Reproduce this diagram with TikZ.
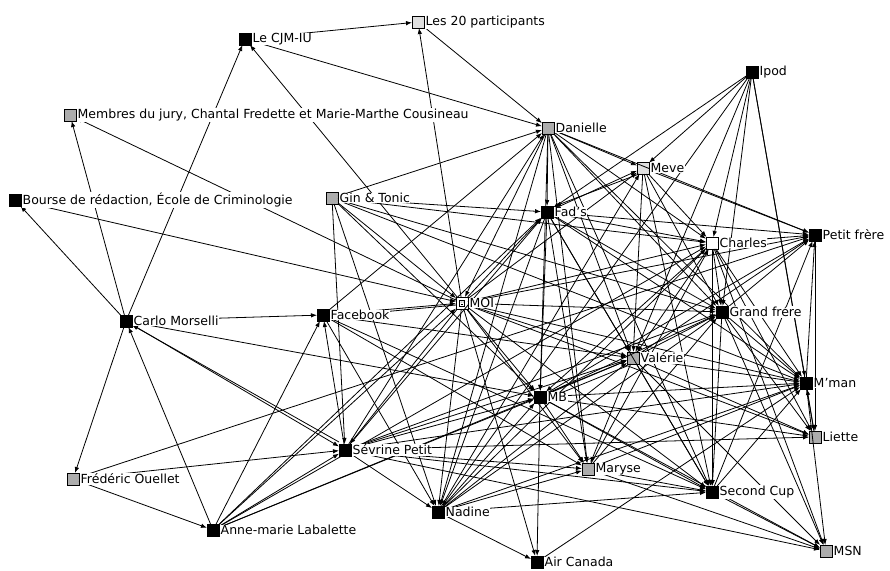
\documentclass[tikz,border=0pt]{standalone}
\usepackage{fontspec}
\setmainfont{DejaVu Sans}
\usetikzlibrary{arrows.meta}
\begin{document}
\begin{tikzpicture}[x=1pt,y=-1pt,
  nd/.style={draw=black, line width=0.7pt, minimum size=12pt, inner sep=0pt, outer sep=0pt},
  blk/.style={nd, fill=black},
  gry/.style={nd, fill=gray!65},
  lgt/.style={nd, fill=gray!25},
  wht/.style={nd, fill=white},
  lbl/.style={anchor=west, fill=white, inner sep=0.5pt, font=\fontsize{12.5}{14}\selectfont},
  e/.style={-{Latex[length=6pt,width=4.5pt]}, line width=0.8pt, black}]
\useasboundingbox (0,0) rectangle (890,570);
\fill[white] (0,0) rectangle (890,570);
% nodes
\node[blk] (cjm) at (245,39) {};
\node[lgt] (l20) at (418,22) {};
\node[gry] (jury) at (70,115) {};
\node[blk] (bourse) at (15,200) {};
\node[gry] (gin) at (332,198) {};
\node[gry] (dan) at (548,128) {};
\node[blk] (ipod) at (752,72) {};
\node[lgt] (meve) at (643,168) {};
\node[blk] (fad) at (547,212) {};
\node[wht] (charles) at (712,243) {};
\node[blk] (pf) at (815,235) {};
\node[blk] (carlo) at (126,321) {};
\node[blk] (fb) at (323,315) {};
\node[wht] (moi) at (462,303) {};
\node[blk] (gf) at (722,312) {};
\node[gry] (val) at (633,358) {};
\node[blk] (mman) at (806,383) {};
\node[blk] (mb) at (540,397) {};
\node[gry] (liette) at (815,437) {};
\node[blk] (sev) at (345,450) {};
\node[gry] (fred) at (73,479) {};
\node[gry] (maryse) at (588,469) {};
\node[blk] (sc) at (712,492) {};
\node[blk] (nadine) at (438,512) {};
\node[blk] (anne) at (213,530) {};
\node[blk] (air) at (537,562) {};
\node[gry] (msn) at (826,551) {};
% edges
\foreach \a/\b in {cjm/l20, cjm/dan, l20/dan, moi/l20, moi/cjm, carlo/cjm, carlo/jury, moi/jury,
  carlo/bourse, bourse/moi, carlo/fb, carlo/fred, anne/carlo, carlo/sev, carlo/mb,
  fred/anne, fred/pf, fred/sev,
  gin/fad, gin/dan, gin/moi, gin/mb, gin/gf, gin/mman, gin/sev, gin/nadine, gin/charles,
  fb/moi, sev/fb, anne/fb, fb/nadine, fb/maryse, fb/val, fb/sc, fb/dan,
  anne/sev, anne/moi, anne/fad, anne/charles, anne/mb, anne/val,
  sev/nadine, sev/msn, sev/sc, sev/mman, sev/gf, sev/fad, sev/dan, sev/val, sev/liette, sev/mb, sev/maryse,
  dan/fad, dan/meve, dan/charles, dan/gf, dan/mman, dan/val, dan/mb, dan/sc, dan/nadine, dan/moi, dan/pf, dan/maryse,
  ipod/fad, ipod/meve, ipod/val, ipod/charles, ipod/gf, ipod/mman, ipod/liette, ipod/nadine,
  meve/pf, fad/meve, meve/val, meve/charles, meve/sc, meve/gf, moi/meve, nadine/meve,
  fad/charles, fad/gf, fad/val, fad/mb, fad/mman, fad/sc, fad/maryse, fad/nadine, moi/fad, fad/pf,
  charles/pf, charles/gf, charles/sc, charles/mman, charles/val, charles/mb, moi/charles, nadine/charles,
  charles/liette, charles/msn, maryse/charles,
  moi/gf, moi/val, moi/mman, moi/mb, moi/sev, moi/nadine, moi/air, moi/maryse, moi/sc, moi/pf, moi/liette,
  gf/pf, gf/mman, gf/liette, gf/msn, gf/sc, gf/val, mb/gf, maryse/gf, nadine/gf,
  val/mman, val/liette, val/sc, mb/val, val/maryse, nadine/val, val/pf, val/msn,
  mman/pf, liette/mman, mb/mman, maryse/mman, nadine/mman, sc/mman, air/mman, mman/msn,
  pf/liette, mb/pf, sc/pf,
  mb/air, mb/maryse, mb/sc, mb/liette, nadine/mb, mb/msn,
  maryse/msn, maryse/sc, nadine/maryse, sc/msn, nadine/sc, nadine/air}
  \draw[e] (\a) -- (\b);
\draw[e] ([yshift=2pt]sev.north west) -- ([yshift=2pt]carlo.south east);
\draw[e] ([yshift=-2pt]moi.west) -- ([yshift=-2pt]fb.east);
\draw[e] ([xshift=2pt]meve.south west) -- ([xshift=2pt]fad.north east);
\draw[e] ([yshift=-2pt]val.south west) -- ([yshift=-2pt]mb.east);
% MOI icon
\draw[line width=0.4pt] ([shift={(-2.5,-3)}]moi.center) rectangle ([shift={(2.5,3)}]moi.center);
\fill ([shift={(-1,-1)}]moi.center) circle (0.5);
\fill ([shift={(1,-1)}]moi.center) circle (0.5);
\draw[line width=0.4pt] ([shift={(-1.2,1.2)}]moi.center) -- ([shift={(1.2,1.2)}]moi.center);
% labels
\node[lbl] (cjmL) at ([xshift=1pt]cjm.east) {Le CJM-IU};
\node[lbl] (l20L) at ([xshift=1pt]l20.east) {Les 20 participants};
\node[lbl] (juryL) at ([xshift=1pt]jury.east) {Membres du jury, Chantal Fredette et Marie-Marthe Cousineau};
\node[lbl] (bourseL) at ([xshift=1pt]bourse.east) {Bourse de rédaction, École de Criminologie};
\node[lbl] (ginL) at ([xshift=1pt]gin.east) {Gin \& Tonic};
\node[lbl] (danL) at ([xshift=1pt]dan.east) {Danielle};
\node[lbl] (ipodL) at ([xshift=1pt]ipod.east) {Ipod};
\node[lbl] (meveL) at ([xshift=1pt]meve.east) {Meve};
\node[lbl] (fadL) at ([xshift=1pt]fad.east) {Fad's};
\node[lbl] (charlesL) at ([xshift=1pt]charles.east) {Charles};
\node[lbl] (pfL) at ([xshift=1pt]pf.east) {Petit frère};
\node[lbl] (carloL) at ([xshift=1pt]carlo.east) {Carlo Morselli};
\node[lbl] (fbL) at ([xshift=1pt]fb.east) {Facebook};
\node[lbl] (moiL) at ([xshift=1pt]moi.east) {MOI};
\node[lbl] (gfL) at ([xshift=1pt]gf.east) {Grand frére};
\node[lbl] (valL) at ([xshift=1pt]val.east) {Valérie};
\node[lbl] (mmanL) at ([xshift=1pt]mman.east) {M'man};
\node[lbl] (mbL) at ([xshift=1pt]mb.east) {MB};
\node[lbl] (lietteL) at ([xshift=1pt]liette.east) {Liette};
\node[lbl] (sevL) at ([xshift=1pt]sev.east) {Sévrine Petit};
\node[lbl] (fredL) at ([xshift=1pt]fred.east) {Frédéric Ouellet};
\node[lbl] (maryseL) at ([xshift=1pt]maryse.east) {Maryse};
\node[lbl] (scL) at ([xshift=1pt]sc.east) {Second Cup};
\node[lbl] (nadineL) at ([xshift=1pt]nadine.east) {Nadine};
\node[lbl] (anneL) at ([xshift=1pt]anne.east) {Anne-marie Labalette};
\node[lbl] (airL) at ([xshift=1pt]air.east) {Air Canada};
\node[lbl] (msnL) at ([xshift=1pt]msn.east) {MSN};
\end{tikzpicture}
\end{document}
